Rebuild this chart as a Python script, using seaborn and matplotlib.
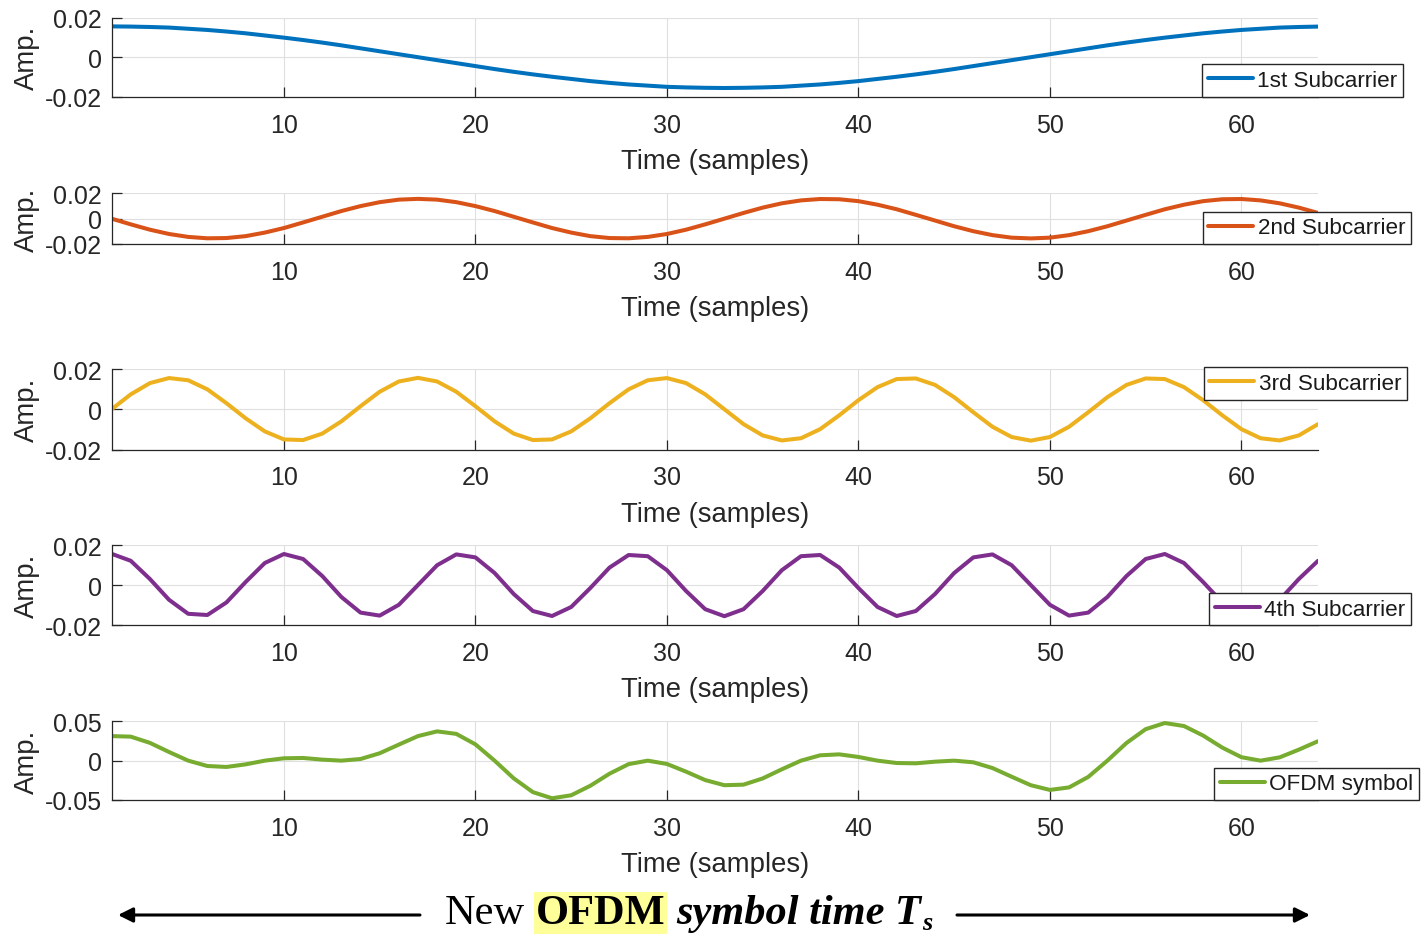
import numpy as np
import pandas as pd
import matplotlib
matplotlib.use("Agg")
import matplotlib.pyplot as plt
from matplotlib.patches import FancyArrowPatch
import seaborn as sns

# ---------------- data ----------------
samples = list(range(1, 65))

sub1 = [0.0156, 0.0155, 0.0153, 0.0150, 0.0144, 0.0138, 0.0130, 0.0121,
        0.0110, 0.0099, 0.0087, 0.0074, 0.0060, 0.0045, 0.0030, 0.0015,
        0.0000, -0.0015, -0.0030, -0.0045, -0.0060, -0.0074, -0.0087, -0.0099,
        -0.0110, -0.0121, -0.0130, -0.0138, -0.0144, -0.0150, -0.0153, -0.0155,
        -0.0156, -0.0155, -0.0153, -0.0150, -0.0144, -0.0138, -0.0130, -0.0121,
        -0.0110, -0.0099, -0.0087, -0.0074, -0.0060, -0.0045, -0.0030, -0.0015,
        0.0000, 0.0015, 0.0030, 0.0045, 0.0060, 0.0074, 0.0087, 0.0099,
        0.0110, 0.0121, 0.0130, 0.0138, 0.0144, 0.0150, 0.0153, 0.0155]

sub2 = [0.0000, -0.0045, -0.0087, -0.0121, -0.0144, -0.0155, -0.0153, -0.0138,
        -0.0110, -0.0074, -0.0030, 0.0015, 0.0060, 0.0099, 0.0130, 0.0150,
        0.0156, 0.0150, 0.0130, 0.0099, 0.0060, 0.0015, -0.0030, -0.0074,
        -0.0110, -0.0138, -0.0153, -0.0155, -0.0144, -0.0121, -0.0087, -0.0045,
        0.0000, 0.0045, 0.0087, 0.0121, 0.0144, 0.0155, 0.0153, 0.0138,
        0.0110, 0.0074, 0.0030, -0.0015, -0.0060, -0.0099, -0.0130, -0.0150,
        -0.0156, -0.0150, -0.0130, -0.0099, -0.0060, -0.0015, 0.0030, 0.0074,
        0.0110, 0.0138, 0.0153, 0.0155, 0.0144, 0.0121, 0.0087, 0.0045]

sub3 = [0.0000, 0.0074, 0.0130, 0.0155, 0.0144, 0.0099, 0.0030, -0.0045,
        -0.0110, -0.0150, -0.0153, -0.0121, -0.0060, 0.0015, 0.0087, 0.0138,
        0.0156, 0.0138, 0.0087, 0.0015, -0.0060, -0.0121, -0.0153, -0.0150,
        -0.0110, -0.0045, 0.0030, 0.0099, 0.0144, 0.0155, 0.0130, 0.0074,
        0.0000, -0.0074, -0.0130, -0.0155, -0.0144, -0.0099, -0.0030, 0.0045,
        0.0110, 0.0150, 0.0153, 0.0121, 0.0060, -0.0015, -0.0087, -0.0138,
        -0.0156, -0.0138, -0.0087, -0.0015, 0.0060, 0.0121, 0.0153, 0.0150,
        0.0110, 0.0045, -0.0030, -0.0099, -0.0144, -0.0155, -0.0130, -0.0074]

sub4 = [0.0156, 0.0121, 0.0030, -0.0074, -0.0144, -0.0150, -0.0087, 0.0015,
        0.0110, 0.0155, 0.0130, 0.0045, -0.0060, -0.0138, -0.0153, -0.0099,
        0.0000, 0.0099, 0.0153, 0.0138, 0.0060, -0.0045, -0.0130, -0.0155,
        -0.0110, -0.0015, 0.0087, 0.0150, 0.0144, 0.0074, -0.0030, -0.0121,
        -0.0156, -0.0121, -0.0030, 0.0074, 0.0144, 0.0150, 0.0087, -0.0015,
        -0.0110, -0.0155, -0.0130, -0.0045, 0.0060, 0.0138, 0.0153, 0.0099,
        0.0000, -0.0099, -0.0153, -0.0138, -0.0060, 0.0045, 0.0130, 0.0155,
        0.0110, 0.0015, -0.0087, -0.0150, -0.0144, -0.0074, 0.0030, 0.0121]

ofdm = [0.0312, 0.0305, 0.0226, 0.0110, 0.0000, -0.0068, -0.0080, -0.0047,
        0.0000, 0.0030, 0.0034, 0.0013, 0.0000, 0.0021, 0.0094, 0.0204,
        0.0312, 0.0372, 0.0340, 0.0207, 0.0000, -0.0225, -0.0400, -0.0478,
        -0.0440, -0.0319, -0.0166, -0.0044, 0.0000, -0.0042, -0.0140, -0.0247,
        -0.0312, -0.0305, -0.0226, -0.0110, 0.0000, 0.0068, 0.0080, 0.0047,
        0.0000, -0.0030, -0.0034, -0.0013, 0.0000, -0.0021, -0.0094, -0.0204,
        -0.0312, -0.0372, -0.0340, -0.0207, 0.0000, 0.0225, 0.0400, 0.0478,
        0.0440, 0.0319, 0.0166, 0.0044, 0.0000, 0.0042, 0.0140, 0.0247]

series_names = ["1st Subcarrier", "2nd Subcarrier", "3rd Subcarrier",
                "4th Subcarrier", "OFDM symbol"]
x_ticks = [10, 20, 30, 40, 50, 60]
sub_yticks = [-0.02, 0, 0.02]
sub_yticklabels = ["-0.02", "0", "0.02"]
sym_yticks = [-0.05, 0, 0.05]
sym_yticklabels = ["-0.05", "0", "0.05"]
x_label = "Time (samples)"
y_label = "Amp."
caption_parts = ["New", "OFDM", "symbol time", "T", "s"]

# ---------------- styling ----------------
sns.set_theme(style="white")
plt.rcParams["font.family"] = ["Liberation Sans", "DejaVu Sans"]
plt.rcParams["axes.unicode_minus"] = False

colors = ["#0072BD", "#D95319", "#EDB120", "#7E2F8E", "#77AC30"]
axis_color = "#262626"
grid_color = "#dfdfdf"

W, H = 1421, 937
fig = plt.figure(figsize=(W / 100, H / 100), dpi=100)

# axes boxes in pixels: left, top, right, bottom
ax_px = [(111.6, 18.7, 1318, 97.7),
         (111.6, 194.3, 1318, 245.0),
         (111.6, 370.0, 1318, 450.5),
         (111.6, 546.0, 1318, 626.0),
         (111.6, 722.3, 1318, 801.0)]
leg_px = [("lower right", 1403, 97.7),
          ("lower right", 1411, 245.0),
          ("upper right", 1407, 368.3),
          ("lower right", 1411, 626.3),
          ("lower right", 1419, 801.0)]

data = [sub1, sub2, sub3, sub4, ofdm]

for i, (ys, name) in enumerate(zip(data, series_names)):
    l, t, r, b = ax_px[i]
    ax = fig.add_axes([l / W, 1 - b / H, (r - l) / W, (b - t) / H])
    df = pd.DataFrame({"x": samples, "y": ys})
    sns.lineplot(data=df, x="x", y="y", ax=ax, color=colors[i], lw=2.9,
                 label=name)
    ax.set_xlim(1, 64)
    if i < 4:
        ax.set_ylim(-0.02, 0.02)
        ax.set_yticks(sub_yticks)
        ax.set_yticklabels(sub_yticklabels)
    else:
        ax.set_ylim(-0.05, 0.05)
        ax.set_yticks(sym_yticks)
        ax.set_yticklabels(sym_yticklabels)
    ax.set_xticks(x_ticks)
    ax.set_xticklabels([str(v) for v in x_ticks])
    ax.grid(True, color=grid_color, lw=0.8)
    ax.set_axisbelow(True)
    for s in ["top", "right"]:
        ax.spines[s].set_visible(False)
    for s in ["left", "bottom"]:
        ax.spines[s].set_color(axis_color)
        ax.spines[s].set_linewidth(0.9)
    ax.tick_params(axis="both", direction="in", length=7, width=0.9,
                   colors=axis_color, labelsize=18, left=True, bottom=True)
    ax.tick_params(axis="x", pad=11.5)
    ax.tick_params(axis="y", pad=7)
    ax.set_xlabel(x_label, fontsize=19.8, color=axis_color, labelpad=8)
    ax.set_ylabel(y_label, fontsize=19.8, color=axis_color)
    ax.yaxis.set_label_coords(-0.059, 0.5)
    loc, lx, ly = leg_px[i]
    leg = ax.legend(loc=loc, bbox_to_anchor=(lx / W, 1 - ly / H),
                    bbox_transform=fig.transFigure, fontsize=16.2,
                    frameon=True, fancybox=False, framealpha=1,
                    facecolor="white", edgecolor=axis_color,
                    borderpad=0.25, handlelength=2.0, handletextpad=0.2,
                    borderaxespad=0)
    leg.get_frame().set_linewidth(1.0)
    for txt in leg.get_texts():
        txt.set_color("#1a1a1a")

# ---------------- caption with arrows ----------------
serif = ["Liberation Serif", "DejaVu Serif"]
cap_size = 30.5
base_y = 1 - 924 / H
renderer = fig.canvas.get_renderer()

x_cur = 445
t1 = fig.text(x_cur / W, base_y, caption_parts[0], family=serif, size=cap_size,
              va="baseline", ha="left", color="black")
ext = t1.get_window_extent(renderer)
space = 0.25 * cap_size * 100 / 72
x_cur = ext.x1 + space
t2 = fig.text(x_cur / W, base_y, caption_parts[1], family=serif, size=cap_size,
              weight="bold", va="baseline", ha="left", color="black",
              bbox=dict(boxstyle="square,pad=0.05", facecolor="#FFFF99",
                        edgecolor="none"))
ext = t2.get_window_extent(renderer)
x_cur = ext.x1 + space
t3 = fig.text(x_cur / W, base_y, caption_parts[2], family=serif, size=cap_size,
              weight="bold", style="italic", va="baseline", ha="left",
              color="black")
ext = t3.get_window_extent(renderer)
x_cur = ext.x1 + space
t4 = fig.text(x_cur / W, base_y, caption_parts[3], family=serif, size=cap_size,
              weight="bold", style="italic", va="baseline", ha="left",
              color="black")
ext = t4.get_window_extent(renderer)
x_cur = ext.x1 + 1
t5 = fig.text(x_cur / W, 1 - 930 / H, caption_parts[4], family=serif,
              size=cap_size * 0.62, weight="bold", style="italic",
              va="baseline", ha="left", color="black")

arrow_y = 1 - 916 / H
for x_start, x_end in [(420, 118), (957, 1310)]:
    arr = FancyArrowPatch((x_start / W, arrow_y), (x_end / W, arrow_y),
                          transform=fig.transFigure, arrowstyle="-|>",
                          mutation_scale=22, lw=2.2, color="black",
                          shrinkA=0, shrinkB=0)
    fig.add_artist(arr)

fig.savefig("out.png", dpi=100)
